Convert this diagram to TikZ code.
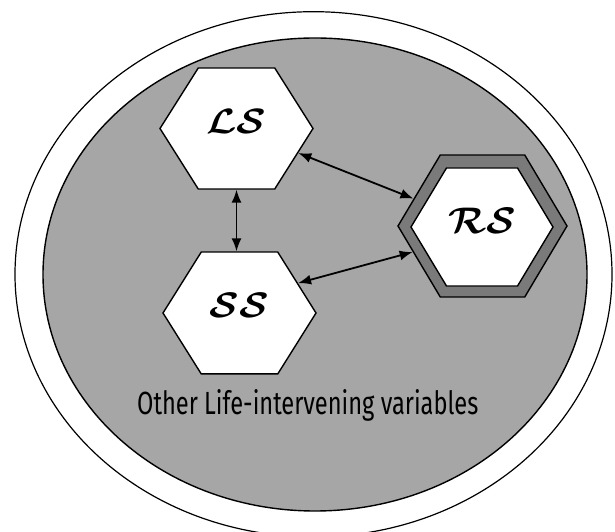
\documentclass[tikz,border=0pt]{standalone}
\usepackage{amsmath}
\usepackage{graphicx}
\usepackage{fontspec}
\setsansfont{Fira Sans}
\usetikzlibrary{shapes.geometric, arrows.meta}

\tikzset{
    hexa/.style={regular polygon, regular polygon sides=6, draw=black, line width=1.4pt, fill=white, inner sep=0pt, text depth=16pt, font=\Huge},
    conn/.style={{Latex[length=13pt, width=10pt]}-{Latex[length=13pt, width=10pt]}, line width=1.8pt}
}
\newcommand{\hexlabel}[1]{\scalebox{1.55}{$\boldsymbol{\mathcal{#1}}$}}

\begin{document}
\begin{tikzpicture}[x=1pt, y=1pt]
            \useasboundingbox (0, 0) rectangle (615, 532);
            \clip (0, 0) rectangle (615, 532);

            \draw[line width=1.2pt] (313.5, 257.7) ellipse [x radius=298.5, y radius=262.6];
            \draw[line width=1.4pt, fill=black!35] (315, 257.5) ellipse [x radius=272, y radius=236.5];

            \node[hexa, minimum size=153pt, yscale=0.913] (LS) at (236.5, 403.5) {\hexlabel{LS}};
            \node[hexa, minimum size=153pt, yscale=0.92] (SS) at (239.5, 219) {\hexlabel{SS}};
            \node[hexa, minimum size=169pt, yscale=0.97, fill=black!52] (RS) at (482.5, 306) {};
            \node[hexa, minimum size=142pt, yscale=0.96, text depth=12pt] (RSin) at (482, 305) {\hexlabel{RS}};

            \node[anchor=base west, inner sep=0pt] (other) at (137, 117) {\resizebox{341pt}{25pt}{\sffamily Other Life-intervening variables}};

            \draw[conn] (LS.south) -- (LS.south |- SS.north);
            \draw[conn] (LS) -- (RS);
            \draw[conn] (SS.29) -- (RS.201);
\end{tikzpicture}
\end{document}
